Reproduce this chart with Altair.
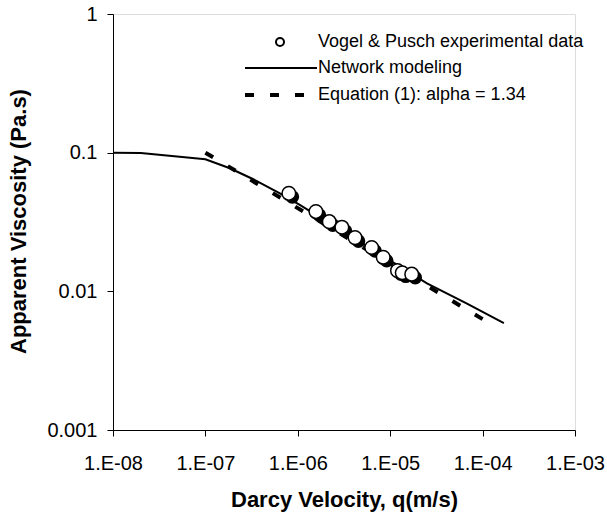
import altair as alt
import pandas as pd

# ---- data ----
exp_q = [8.0e-7, 1.57e-6, 2.19e-6, 3.0e-6, 4.16e-6, 6.3e-6, 8.4e-6, 1.2e-5, 1.35e-5, 1.71e-5]
exp_mu = [0.0509, 0.0376, 0.0318, 0.0290, 0.0244, 0.0207, 0.0176, 0.0141, 0.0136, 0.0133]

net_q = [1e-8, 2e-8, 1e-7, 1.84e-7, 3.3e-7, 6.4e-7, 1.05e-6, 5e-6, 2.5e-5, 6.7e-5, 1.7e-4]
net_mu = [0.1, 0.0995, 0.0896, 0.0772, 0.0643, 0.0509, 0.042, 0.0222, 0.0114, 0.0082, 0.0059]

eq_q = [1e-7, 1e-4]
eq_mu = [0.1, 0.0063]

legend_labels = ["Vogel & Pusch experimental data", "Network modeling",
                 "Equation (1): alpha = 1.34"]
x_ticks = [1e-8, 1e-7, 1e-6, 1e-5, 1e-4, 1e-3]
y_ticks = [0.001, 0.01, 0.1, 1]

FONT = "Liberation Sans"

exp_df = pd.DataFrame({"q": exp_q, "mu": exp_mu})
net_df = pd.DataFrame({"q": net_q, "mu": net_mu})
eq_df = pd.DataFrame({"q": eq_q, "mu": eq_mu})

xscale = alt.Scale(type="log", domain=[1e-8, 1e-3], nice=False)
yscale = alt.Scale(type="log", domain=[0.001, 1], nice=False)

xaxis = alt.Axis(values=x_ticks, labelExpr="'1.E-0' + (-round(log(datum.value)/LN10))",
                 grid=False, domainColor="black", tickColor="black", tickSize=6,
                 labelFont=FONT, labelFontSize=20, labelColor="black", labelPadding=17,
                 labelFlush=False, labelOverlap=False,
                 title="Darcy Velocity, q(m/s)", titleFont=FONT, titleFontSize=22,
                 titleFontWeight="bold", titleColor="black", titleX=231, titleY=76,
                 titleBaseline="alphabetic", titleAlign="center")
yaxis = alt.Axis(values=y_ticks, format="~g", grid=False, domainColor="black",
                 tickColor="black", tickSize=6, labelFont=FONT, labelFontSize=20,
                 labelColor="black", labelPadding=10, labelOverlap=False,
                 title="Apparent Viscosity (Pa.s)", titleFont=FONT, titleFontSize=22,
                 titleFontWeight="bold", titleColor="black", titleX=-88, titleY=207,
                 titleAngle=270, titleBaseline="alphabetic", titleAlign="center")

X = alt.X("q:Q", scale=xscale, axis=xaxis)
Y = alt.Y("mu:Q", scale=yscale, axis=yaxis)

eq_line = alt.Chart(eq_df).mark_line(color="black", strokeWidth=4, strokeDash=[9, 17.2],
                                      strokeCap="butt").encode(x=X, y=Y)
net_line = alt.Chart(net_df).mark_line(color="black", strokeWidth=2).encode(x=X, y=Y)
shadows = alt.Chart(exp_df).mark_circle(color="black", opacity=1, size=185,
                                        xOffset=3.5, yOffset=3.5).encode(x=X, y=Y)
circles = alt.Chart(exp_df).mark_circle(fill="white", stroke="black", strokeWidth=1.5,
                                        opacity=1, size=185).encode(x=X, y=Y)

# ---- manual legend ----
l0 = pd.DataFrame({"label": [legend_labels[0]]})
l1 = pd.DataFrame({"label": [legend_labels[1]]})
l2 = pd.DataFrame({"label": [legend_labels[2]]})

leg_pt = alt.Chart(l0).mark_point(shape="circle", fill="white", stroke="black",
                                  strokeWidth=2, size=64, opacity=1).encode(
    x=alt.value(167), y=alt.value(28))
leg_solid = alt.Chart(l1).mark_rule(color="black", strokeWidth=2).encode(
    x=alt.value(132), x2=alt.value(204), y=alt.value(54))
leg_dash = alt.Chart(l2).mark_rule(color="black", strokeWidth=4, strokeDash=[9, 16],
                                   strokeCap="butt").encode(
    x=alt.value(132), x2=alt.value(191), y=alt.value(81))


def leg_text(df, yv):
    return alt.Chart(df).mark_text(align="left", baseline="middle", font=FONT,
                                   fontSize=18, color="black").encode(
        x=alt.value(205), y=alt.value(yv), text="label:N")


chart = alt.layer(
    eq_line, net_line, shadows, circles,
    leg_pt, leg_solid, leg_dash,
    leg_text(l0, 28), leg_text(l1, 54), leg_text(l2, 81),
).properties(
    width=462, height=416,
    padding={"left": 113, "top": 14, "right": 32, "bottom": 87},
    autosize=alt.AutoSizeParams(type="none"),
).configure_view(stroke=None).configure(background="white")

chart.save("out.html", embed_options={"renderer": "svg", "actions": False})
